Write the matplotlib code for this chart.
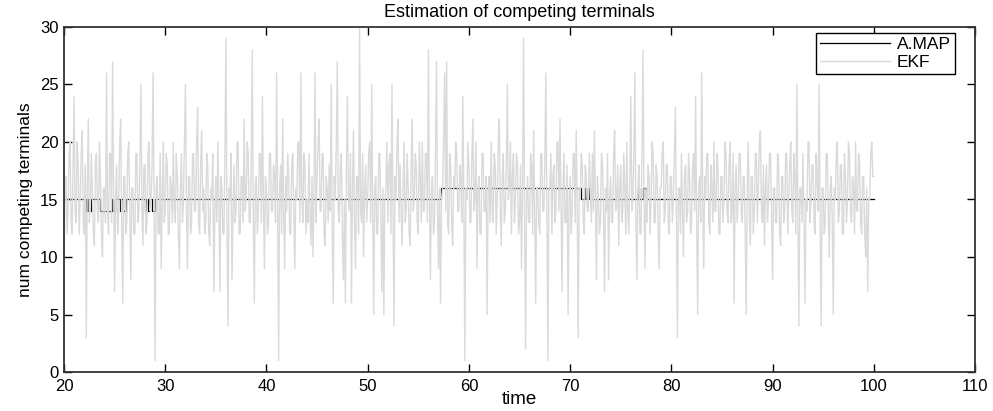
import numpy as np
import matplotlib
matplotlib.use("Agg")
import matplotlib.pyplot as plt

plt.rcParams['font.family'] = ['Liberation Sans', 'DejaVu Sans']

# EKF estimate, sampled every 0.1 time units from 20 to 100
ekf_t0 = 20.0
ekf_dt = 0.1
ekf_values = [
    9, 16, 17, 12, 14, 19, 20, 13, 12, 18, 24, 14, 13, 20, 18, 12, 15, 19, 21, 13,
    12, 18, 3, 16, 22, 13, 14, 19, 16, 12, 11, 18, 19, 14, 13, 20, 17, 12, 10, 16,
    16, 13, 26, 14, 12, 19, 19, 13, 27, 16, 7, 15, 18, 12, 14, 20, 22, 13, 6, 17,
    17, 12, 13, 19, 20, 14, 8, 16, 16, 12, 12, 19, 19, 13, 14, 18, 25, 14, 11, 18,
    18, 12, 13, 19, 20, 14, 15, 18, 26, 13, 1, 16, 17, 12, 12, 19, 9, 15, 20, 13,
    14, 19, 18, 12, 12, 17, 16, 13, 20, 14, 13, 19, 17, 12, 9, 16, 19, 13, 15, 20,
    25, 14, 9, 17, 17, 12, 13, 19, 19, 14, 14, 20, 23, 13, 12, 18, 21, 14, 16, 12,
    13, 19, 18, 12, 11, 16, 15, 19, 7, 14, 17, 13, 20, 15, 7, 17, 16, 12, 12, 19,
    29, 13, 4, 16, 15, 19, 8, 14, 18, 13, 14, 20, 20, 12, 12, 17, 17, 13, 22, 14,
    15, 20, 19, 13, 13, 18, 28, 14, 6, 16, 17, 12, 14, 19, 19, 13, 24, 15, 9, 17,
    16, 12, 13, 19, 19, 14, 14, 18, 17, 13, 26, 15, 1, 16, 18, 12, 22, 14, 9, 17,
    14, 19, 17, 12, 12, 18, 19, 14, 9, 16, 15, 20, 20, 13, 26, 15, 13, 19, 18, 12,
    15, 13, 19, 14, 11, 17, 10, 16, 26, 13, 17, 20, 22, 14, 14, 19, 19, 12, 11, 17,
    16, 13, 18, 14, 25, 12, 6, 17, 15, 20, 27, 14, 13, 18, 19, 12, 8, 15, 6, 18,
    24, 15, 14, 19, 6, 16, 21, 13, 9, 17, 17, 12, 30, 14, 13, 19, 10, 16, 18, 13,
    15, 19, 20, 13, 25, 14, 5, 16, 17, 12, 12, 19, 19, 14, 7, 16, 5, 15, 16, 20,
    13, 18, 19, 12, 25, 15, 4, 17, 15, 20, 22, 13, 18, 14, 11, 16, 20, 13, 14, 19,
    16, 12, 11, 18, 22, 14, 15, 19, 18, 13, 12, 20, 17, 13, 20, 14, 14, 19, 19, 13,
    28, 15, 8, 16, 17, 12, 13, 19, 27, 14, 9, 16, 6, 15, 16, 20, 26, 14, 27, 13,
    12, 19, 18, 13, 11, 17, 16, 20, 19, 14, 14, 18, 17, 13, 24, 15, 1, 16, 15, 20,
    18, 13, 13, 19, 22, 14, 15, 20, 9, 16, 17, 12, 12, 19, 19, 14, 14, 17, 5, 16,
    17, 13, 20, 14, 13, 19, 18, 12, 15, 20, 22, 14, 11, 17, 19, 13, 14, 18, 25, 15,
    16, 20, 12, 17, 19, 13, 15, 19, 18, 12, 13, 18, 9, 16, 29, 14, 2, 15, 17, 13,
    13, 19, 18, 12, 21, 14, 6, 16, 16, 13, 12, 19, 19, 14, 14, 18, 26, 15, 1, 16,
    16, 19, 12, 17, 18, 13, 14, 20, 20, 14, 22, 15, 7, 16, 19, 13, 13, 18, 5, 15,
    17, 12, 14, 19, 19, 13, 21, 15, 3, 16, 15, 19, 18, 13, 12, 18, 17, 14, 14, 19,
    16, 13, 19, 14, 21, 15, 8, 17, 15, 12, 13, 19, 18, 14, 7, 16, 14, 19, 8, 15,
    17, 13, 13, 19, 21, 14, 15, 18, 11, 16, 18, 13, 14, 19, 16, 12, 20, 14, 12, 17,
    24, 14, 15, 19, 26, 13, 8, 16, 18, 12, 12, 19, 28, 15, 9, 16, 13, 18, 17, 12,
    15, 20, 19, 13, 13, 18, 17, 12, 9, 16, 16, 19, 20, 13, 14, 18, 18, 13, 12, 17,
    17, 13, 15, 19, 23, 14, 3, 16, 16, 12, 19, 14, 10, 17, 18, 13, 14, 19, 17, 12,
    13, 18, 19, 14, 24, 13, 5, 16, 17, 13, 26, 15, 9, 17, 15, 19, 19, 13, 12, 18,
    16, 13, 20, 14, 14, 19, 18, 12, 12, 17, 17, 13, 15, 20, 19, 14, 13, 18, 20, 13,
    14, 19, 6, 16, 18, 13, 15, 19, 19, 14, 13, 17, 17, 12, 5, 16, 20, 14, 11, 17,
    17, 12, 14, 19, 19, 13, 16, 20, 21, 14, 13, 18, 11, 16, 18, 13, 15, 19, 19, 14,
    8, 16, 16, 13, 13, 19, 18, 12, 11, 17, 17, 13, 14, 19, 19, 12, 15, 18, 20, 14,
    13, 19, 17, 12, 25, 14, 4, 16, 16, 13, 19, 14, 6, 15, 14, 20, 20, 13, 15, 18,
    18, 13, 12, 19, 17, 14, 25, 13, 4, 16, 16, 12, 13, 19, 19, 14, 10, 16, 17, 13,
    5, 16, 15, 19, 20, 13, 14, 18, 18, 12, 12, 19, 17, 13, 15, 20, 19, 14, 13, 17,
    16, 12, 20, 14, 14, 19, 18, 13, 12, 17, 17, 12, 10, 16, 7, 15, 15, 19, 20, 17,
    17,
]

# A.MAP estimate: change times and levels (step function)
map_times = [20.0, 22.1, 22.2, 22.3, 22.4, 22.6, 22.7, 23.6, 24.7, 24.8,
             25.0, 25.5, 25.6, 25.8, 26.1, 28.0, 28.1, 28.3, 28.4, 28.7,
             29.0, 57.2, 71.1, 71.5, 71.6, 71.8, 71.9, 76.7, 76.8, 77.2,
             77.5, 100.0]
map_levels = [15, 14, 15, 14, 15, 14, 15, 14, 15, 14,
              15, 14, 15, 14, 15, 14, 15, 14, 15, 14,
              15, 16, 15, 16, 15, 16, 15, 16, 15, 16,
              15, 15]

title = "Estimation of competing terminals"
xlabel = "time"
ylabel = "num competing terminals"
xticks = [20, 30, 40, 50, 60, 70, 80, 90, 100, 110]
yticks = [0, 5, 10, 15, 20, 25, 30]

ekf_t = ekf_t0 + ekf_dt * np.arange(len(ekf_values))

fig = plt.figure(figsize=(9.93, 4.11), dpi=100)
ax = fig.add_axes([64 / 993, 1 - 372 / 411, 911 / 993, 345 / 411])

ax.plot(map_times, map_levels, color='black', lw=0.9, drawstyle='steps-post',
        label='A.MAP')
ax.plot(ekf_t, ekf_values, color='#dadada', lw=1.0, label='EKF')

ax.set_xlim(20, 110)
ax.set_ylim(0, 30)
ax.set_xticks(xticks)
ax.set_yticks(yticks)
ax.tick_params(direction='in', length=6, width=1, top=True, right=True,
               labelsize=12)
ax.tick_params(axis='x', pad=5)
ax.tick_params(axis='y', pad=4)
for s in ax.spines.values():
    s.set_linewidth(1.3)
    s.set_color('#333333')

ax.set_title(title, fontsize=13, pad=7)
ax.set_xlabel(xlabel, fontsize=13.5, labelpad=-2)
ax.set_ylabel(ylabel, fontsize=12.5, labelpad=5,
              family=['Liberation Sans Narrow', 'Liberation Sans'])

leg = ax.legend(loc='upper right', bbox_to_anchor=(0.978, 0.983), fontsize=12.5,
                frameon=True, fancybox=False, framealpha=1, edgecolor='black',
                handlelength=4.0, borderpad=0.25, labelspacing=0.15,
                handletextpad=0.4, borderaxespad=0)
leg.get_frame().set_linewidth(1.0)

fig.savefig('out.png', dpi=100)
